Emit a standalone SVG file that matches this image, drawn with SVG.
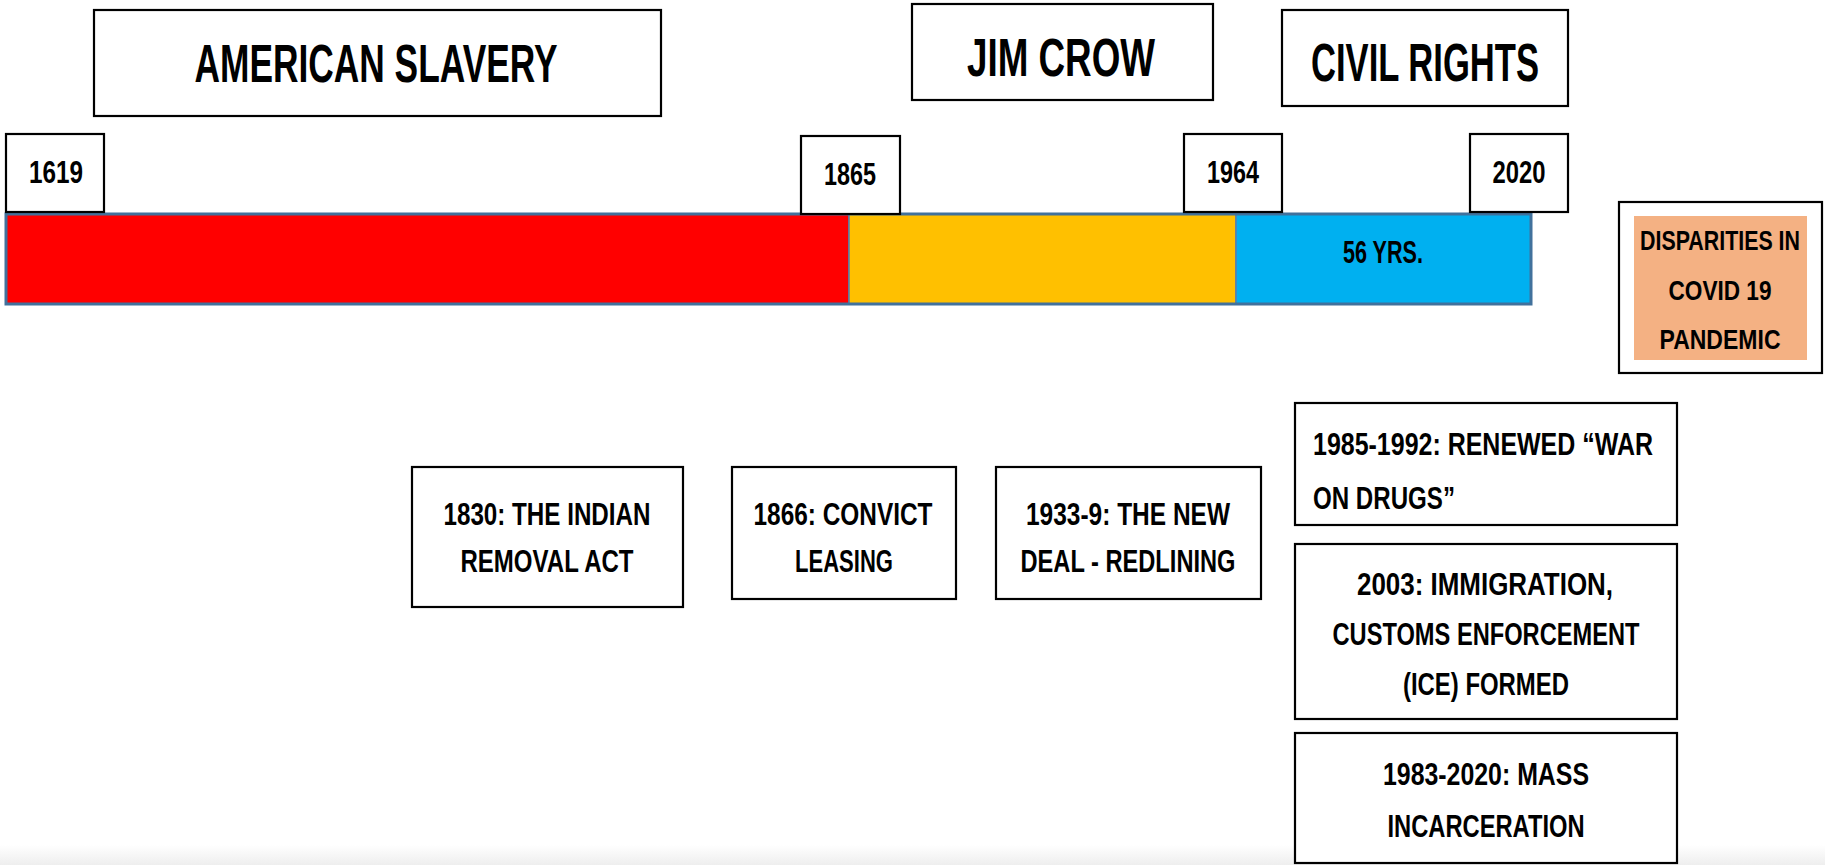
<svg xmlns="http://www.w3.org/2000/svg" width="1825" height="865" viewBox="0 0 1825 865">
<defs>
<linearGradient id="fade" x1="0" y1="0" x2="0" y2="1">
<stop offset="0" stop-color="#ffffff"/>
<stop offset="1" stop-color="#eeeeee"/>
</linearGradient>
</defs>
<style>
.box{fill:#ffffff;stroke:#000000;stroke-width:2.2}
.t{font-family:"Liberation Sans",Arial,sans-serif;font-weight:bold;fill:#000000;text-anchor:middle}
.title{font-size:53px}
.date{font-size:32px}
.body{font-size:31px}
.seg{stroke:#5a7fa8;stroke-width:1.5}
</style>
<rect x="0" y="0" width="1825" height="865" fill="#ffffff"/>
<rect x="0" y="845" width="1825" height="20" fill="url(#fade)"/>

<g id="timeline-bar">
<rect class="seg" x="6" y="214" width="843" height="90" fill="#ff0000"/>
<rect class="seg" x="849" y="214" width="387" height="90" fill="#ffc000"/>
<rect class="seg" x="1236" y="214" width="295" height="90" fill="#00b0f0"/>
<rect x="6" y="214" width="1525" height="90" fill="none" stroke="#41719c" stroke-width="3"/>
<text class="t date" x="1383" y="263" textLength="80" lengthAdjust="spacingAndGlyphs">56 YRS.</text>
</g>

<g id="era-slavery">
<rect class="box" x="94" y="10" width="567" height="106"/>
<text class="t title" x="376" y="82" textLength="363" lengthAdjust="spacingAndGlyphs">AMERICAN SLAVERY</text>
</g>
<g id="era-jimcrow">
<rect class="box" x="912" y="4" width="301" height="96"/>
<text class="t title" x="1061" y="76" textLength="188" lengthAdjust="spacingAndGlyphs">JIM CROW</text>
</g>
<g id="era-civilrights">
<rect class="box" x="1282" y="10" width="286" height="96"/>
<text class="t title" x="1425" y="81" textLength="228" lengthAdjust="spacingAndGlyphs">CIVIL RIGHTS</text>
</g>

<g id="date-1619">
<rect class="box" x="6" y="134" width="98" height="78"/>
<text class="t date" x="56" y="183" textLength="54" lengthAdjust="spacingAndGlyphs">1619</text>
</g>
<g id="date-1865">
<rect class="box" x="801" y="136" width="99" height="78"/>
<text class="t date" x="850" y="185" textLength="52" lengthAdjust="spacingAndGlyphs">1865</text>
</g>
<g id="date-1964">
<rect class="box" x="1184" y="134" width="98" height="78"/>
<text class="t date" x="1233" y="183" textLength="52" lengthAdjust="spacingAndGlyphs">1964</text>
</g>
<g id="date-2020">
<rect class="box" x="1470" y="134" width="98" height="78"/>
<text class="t date" x="1519" y="183" textLength="53" lengthAdjust="spacingAndGlyphs">2020</text>
</g>

<g id="covid">
<rect class="box" x="1619" y="202" width="203" height="171"/>
<rect x="1634" y="216" width="173" height="144" fill="#f4b183"/>
<text class="t" font-size="28" x="1720" y="250" textLength="160" lengthAdjust="spacingAndGlyphs">DISPARITIES IN</text>
<text class="t" font-size="28" x="1720" y="300" textLength="103" lengthAdjust="spacingAndGlyphs">COVID 19</text>
<text class="t" font-size="28" x="1720" y="349" textLength="121" lengthAdjust="spacingAndGlyphs">PANDEMIC</text>
</g>

<g id="event-1830">
<rect class="box" x="412" y="467" width="271" height="140"/>
<text class="t body" x="547" y="525" textLength="207" lengthAdjust="spacingAndGlyphs">1830: THE INDIAN</text>
<text class="t body" x="547" y="572" textLength="173" lengthAdjust="spacingAndGlyphs">REMOVAL ACT</text>
</g>
<g id="event-1866">
<rect class="box" x="732" y="467" width="224" height="132"/>
<text class="t body" x="843" y="525" textLength="179" lengthAdjust="spacingAndGlyphs">1866: CONVICT</text>
<text class="t body" x="844" y="572" textLength="98" lengthAdjust="spacingAndGlyphs">LEASING</text>
</g>
<g id="event-1933">
<rect class="box" x="996" y="467" width="265" height="132"/>
<text class="t body" x="1128" y="525" textLength="204" lengthAdjust="spacingAndGlyphs">1933-9: THE NEW</text>
<text class="t body" x="1128" y="572" textLength="215" lengthAdjust="spacingAndGlyphs">DEAL - REDLINING</text>
</g>
<g id="event-1985">
<rect class="box" x="1295" y="403" width="382" height="122"/>
<text class="t body" style="text-anchor:start" x="1313" y="455" textLength="340" lengthAdjust="spacingAndGlyphs">1985-1992: RENEWED “WAR</text>
<text class="t body" style="text-anchor:start" x="1313" y="509" textLength="142" lengthAdjust="spacingAndGlyphs">ON DRUGS”</text>
</g>
<g id="event-2003">
<rect class="box" x="1295" y="544" width="382" height="175"/>
<text class="t body" x="1485" y="595" textLength="256" lengthAdjust="spacingAndGlyphs">2003: IMMIGRATION,</text>
<text class="t body" x="1486" y="645" textLength="307" lengthAdjust="spacingAndGlyphs">CUSTOMS ENFORCEMENT</text>
<text class="t body" x="1486" y="695" textLength="166" lengthAdjust="spacingAndGlyphs">(ICE) FORMED</text>
</g>
<g id="event-1983">
<rect class="box" x="1295" y="733" width="382" height="130"/>
<text class="t body" x="1486" y="785" textLength="206" lengthAdjust="spacingAndGlyphs">1983-2020: MASS</text>
<text class="t body" x="1486" y="837" textLength="197" lengthAdjust="spacingAndGlyphs">INCARCERATION</text>
</g>
</svg>
